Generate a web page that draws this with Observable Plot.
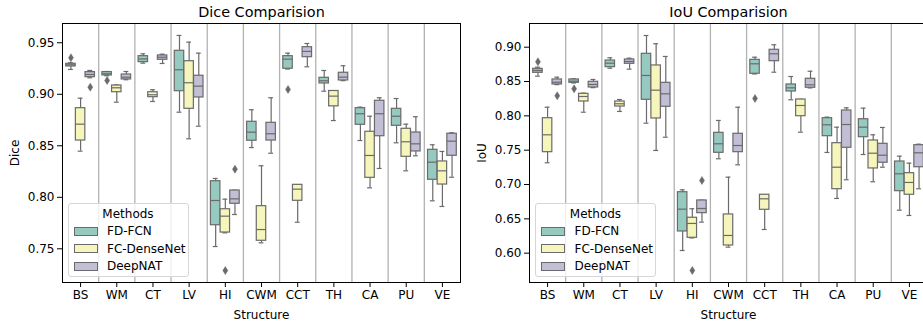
<!DOCTYPE html>
<html>
<head>
<meta charset="utf-8">
<script src="https://cdn.jsdelivr.net/npm/d3@7"></script>
<script src="https://cdn.jsdelivr.net/npm/@observablehq/plot@0.6"></script>
<style>
html, body { margin: 0; padding: 0; background: #fff; }
#wrap { position: relative; width: 923px; height: 322px; overflow: hidden; font-family: "DejaVu Sans", sans-serif; background: #fff; }
.panel { position: absolute; top: 0; }
.legend { position: absolute; background: rgba(255,255,255,0.8); border: 1px solid #d6d6d6; border-radius: 3px; box-sizing: border-box; font-size: 12px; color: #000; }
.legend .ttl { position: absolute; left: 0; right: 0; text-align: center; line-height: 14px; }
.legend .sw { position: absolute; width: 24px; height: 9px; box-sizing: border-box; border: 1.2px solid #6a6a6a; }
.legend .lb { position: absolute; line-height: 14px; white-space: nowrap; }
</style>
</head>
<body>
<div id="wrap"></div>
<script>
const structures = ["BS", "WM", "CT", "LV", "HI", "CWM", "CCT", "TH", "CA", "PU", "VE"];
const methods = ["FD-FCN", "FC-DenseNet", "DeepNAT"];
const colors = ["#96cac1", "#f6f6bc", "#c1bed6"];

// each entry: [whisker low, Q1, median, Q3, whisker high], in structure order
const diceFdFcn = [
  [0.9241, 0.9270, 0.9286, 0.9296, 0.9306],
  [0.9180, 0.9183, 0.9199, 0.9215, 0.9221],
  [0.9302, 0.9312, 0.9343, 0.9370, 0.9393],
  [0.8826, 0.9030, 0.9238, 0.9422, 0.9571],
  [0.7522, 0.7729, 0.7969, 0.8156, 0.8183],
  [0.8483, 0.8549, 0.8632, 0.8733, 0.8850],
  [0.9245, 0.9248, 0.9341, 0.9370, 0.9399],
  [0.9030, 0.9105, 0.9131, 0.9160, 0.9231],
  [0.8551, 0.8704, 0.8811, 0.8865, 0.8875],
  [0.8529, 0.8694, 0.8787, 0.8859, 0.8959],
  [0.7966, 0.8170, 0.8341, 0.8461, 0.8510]
];
const diceFcDenseNet = [
  [0.8448, 0.8551, 0.8710, 0.8865, 0.8962],
  [0.8923, 0.9020, 0.9063, 0.9085, 0.9090],
  [0.8930, 0.8972, 0.8995, 0.9020, 0.9044],
  [0.8568, 0.8859, 0.9112, 0.9321, 0.9506],
  [0.7655, 0.7658, 0.7817, 0.7884, 0.7982],
  [0.7558, 0.7578, 0.7687, 0.7914, 0.8306],
  [0.7758, 0.7966, 0.8079, 0.8121, 0.8123],
  [0.8745, 0.8883, 0.8982, 0.9032, 0.9034],
  [0.8092, 0.8189, 0.8406, 0.8636, 0.8787],
  [0.8257, 0.8393, 0.8539, 0.8665, 0.8710],
  [0.7911, 0.8124, 0.8257, 0.8348, 0.8445]
];
const diceDeepNat = [
  [0.9160, 0.9166, 0.9192, 0.9215, 0.9231],
  [0.9141, 0.9144, 0.9166, 0.9192, 0.9221],
  [0.9299, 0.9335, 0.9360, 0.9377, 0.9389],
  [0.8690, 0.8969, 0.9079, 0.9180, 0.9399],
  [0.7833, 0.7937, 0.7985, 0.8066, 0.8068],
  [0.8428, 0.8551, 0.8617, 0.8723, 0.8966],
  [0.9267, 0.9360, 0.9416, 0.9457, 0.9493],
  [0.9132, 0.9134, 0.9166, 0.9209, 0.9277],
  [0.8280, 0.8593, 0.8811, 0.8937, 0.8966],
  [0.8403, 0.8445, 0.8519, 0.8629, 0.8782],
  [0.8195, 0.8403, 0.8545, 0.8617, 0.8626]
];
const diceOutliers = [
  ["BS", "FD-FCN", 0.9354], ["BS", "DeepNAT", 0.9069], ["WM", "FD-FCN", 0.9134],
  ["HI", "FC-DenseNet", 0.7289], ["HI", "DeepNAT", 0.8273], ["CCT", "FD-FCN", 0.9047]
];

const iouFdFcn = [
  [0.8578, 0.8627, 0.8661, 0.8685, 0.8709],
  [0.8479, 0.8481, 0.8505, 0.8530, 0.8540],
  [0.8694, 0.8709, 0.8767, 0.8806, 0.8846],
  [0.7893, 0.8234, 0.8588, 0.8904, 0.9170],
  [0.6039, 0.6316, 0.6641, 0.6888, 0.6923],
  [0.7375, 0.7462, 0.7593, 0.7753, 0.7933],
  [0.8610, 0.8613, 0.8758, 0.8816, 0.8854],
  [0.8234, 0.8355, 0.8408, 0.8457, 0.8573],
  [0.7467, 0.7704, 0.7870, 0.7966, 0.7981],
  [0.7437, 0.7689, 0.7835, 0.7951, 0.8112],
  [0.6626, 0.6903, 0.7156, 0.7335, 0.7413]
];
const iouFcDenseNet = [
  [0.7317, 0.7471, 0.7724, 0.7966, 0.8126],
  [0.8053, 0.8209, 0.8282, 0.8321, 0.8330],
  [0.8064, 0.8136, 0.8176, 0.8209, 0.8238],
  [0.7496, 0.7962, 0.8374, 0.8734, 0.9050],
  [0.6222, 0.6224, 0.6433, 0.6516, 0.6647],
  [0.6088, 0.6112, 0.6258, 0.6564, 0.7107],
  [0.6345, 0.6632, 0.6792, 0.6851, 0.6853],
  [0.7762, 0.7995, 0.8151, 0.8238, 0.8240],
  [0.6797, 0.6932, 0.7252, 0.7602, 0.7835],
  [0.7040, 0.7234, 0.7456, 0.7641, 0.7724],
  [0.6549, 0.6851, 0.7030, 0.7165, 0.7311]
];
const iouDeepNat = [
  [0.8455, 0.8457, 0.8490, 0.8530, 0.8563],
  [0.8411, 0.8413, 0.8457, 0.8496, 0.8530],
  [0.8680, 0.8758, 0.8792, 0.8821, 0.8840],
  [0.7689, 0.8132, 0.8321, 0.8481, 0.8865],
  [0.6452, 0.6583, 0.6651, 0.6768, 0.6770],
  [0.7287, 0.7471, 0.7568, 0.7739, 0.8126],
  [0.8636, 0.8796, 0.8904, 0.8962, 0.9035],
  [0.8407, 0.8409, 0.8452, 0.8540, 0.8650],
  [0.7069, 0.7535, 0.7874, 0.8078, 0.8117],
  [0.7252, 0.7317, 0.7427, 0.7593, 0.7831],
  [0.6938, 0.7252, 0.7462, 0.7573, 0.7587]
];
const iouOutliers = [
  ["BS", "FD-FCN", 0.8787], ["BS", "DeepNAT", 0.8292], ["WM", "FD-FCN", 0.8394],
  ["HI", "FC-DenseNet", 0.5748], ["HI", "DeepNAT", 0.7059], ["CCT", "FD-FCN", 0.8253]
];

const diceTicks = [0.75, 0.80, 0.85, 0.90, 0.95];
const iouTicks = [0.60, 0.65, 0.70, 0.75, 0.80, 0.85, 0.90];

const GRAY = "#6a6a6a";
const GROUP = 0.8;             // seaborn group width
const HW = GROUP / methods.length;

const thinDiamond = {
  draw(ctx, size) {
    const r = Math.sqrt(size / Math.PI);
    ctx.moveTo(0, -r);
    ctx.lineTo(0.62 * r, 0);
    ctx.lineTo(0, r);
    ctx.lineTo(-0.62 * r, 0);
    ctx.closePath();
  }
};

function centerOf(si, mi) { return si + (mi - (methods.length - 1) / 2) * HW; }

function panel({title, ylabel, series, outliers, ticks, domain, width, marginLeft, marginRight}) {
  const rows = structures.flatMap((s, i) => methods.map((m, k) => {
    const [lo, q1, med, q3, hi] = series[k][i];
    const c = centerOf(i, k);
    return {s, m, c, lo, q1, med, q3, hi,
      xa: c - HW * 0.49, xb: c + HW * 0.49,
      ca: c - HW * 0.25, cb: c + HW * 0.25};
  }));
  const outs = outliers.map(([s, m, v]) => ({c: centerOf(structures.indexOf(s), methods.indexOf(m)), v}));
  const seps = d3.range(structures.length - 1).map(i => i + 0.5);
  return Plot.plot({
    width, height: 322,
    marginLeft, marginRight, marginTop: 23, marginBottom: 40,
    style: {fontFamily: "DejaVu Sans, sans-serif", fontSize: "12px", color: "black", background: "transparent", overflow: "visible"},
    x: {domain: [-0.5, structures.length - 0.5]},
    y: {domain},
    color: {domain: methods, range: colors},
    marks: [
      Plot.ruleX(seps, {x: d => d, stroke: "#b2b2b2", strokeWidth: 1.3}),
      Plot.ruleX(rows, {x: "c", y1: "lo", y2: "q1", stroke: GRAY, strokeWidth: 1.2}),
      Plot.ruleX(rows, {x: "c", y1: "q3", y2: "hi", stroke: GRAY, strokeWidth: 1.2}),
      Plot.ruleY(rows, {y: "lo", x1: "ca", x2: "cb", stroke: GRAY, strokeWidth: 1.2}),
      Plot.ruleY(rows, {y: "hi", x1: "ca", x2: "cb", stroke: GRAY, strokeWidth: 1.2}),
      Plot.rect(rows, {x1: "xa", x2: "xb", y1: "q1", y2: "q3", fill: "m", stroke: GRAY, strokeWidth: 1.2}),
      Plot.ruleY(rows, {y: "med", x1: "xa", x2: "xb", stroke: GRAY, strokeWidth: 1.2}),
      Plot.dot(outs, {x: "c", y: "v", r: 4, symbol: thinDiamond, fill: GRAY, stroke: GRAY, strokeWidth: 0.5}),
      Plot.frame({stroke: "black", strokeWidth: 1}),
      Plot.axisX({ticks: d3.range(structures.length), tickFormat: i => structures[i], tickSize: 5, tickPadding: 3,
        label: "Structure", labelAnchor: "center", labelOffset: 36, labelArrow: "none", fontSize: 12}),
      Plot.axisY({ticks, tickFormat: d3.format(".2f"), tickSize: 5, tickPadding: 3,
        label: ylabel, labelAnchor: "center", labelOffset: 52, labelArrow: "none", fontSize: 12}),
      Plot.text([title], {text: d => d, frameAnchor: "top", dy: -6.3, lineAnchor: "bottom", fontSize: 14.4})
    ]
  });
}

function legend(left) {
  const lg = document.createElement("div");
  lg.className = "legend";
  Object.assign(lg.style, {left: left + "px", top: "202.5px", width: "121px", height: "74px"});
  const t = document.createElement("div");
  t.className = "ttl"; t.style.top = "3px"; t.textContent = "Methods";
  lg.appendChild(t);
  methods.forEach((m, k) => {
    const top = 23 + k * 17.5;
    const sw = document.createElement("div");
    sw.className = "sw";
    Object.assign(sw.style, {left: "5px", top: top + "px", background: colors[k]});
    const lb = document.createElement("div");
    lb.className = "lb";
    Object.assign(lb.style, {left: "38.5px", top: (top - 2.5) + "px"});
    lb.textContent = m;
    lg.appendChild(sw); lg.appendChild(lb);
  });
  return lg;
}

const wrap = document.getElementById("wrap");
const p1 = panel({title: "Dice Comparision", ylabel: "Dice", series: [diceFdFcn, diceFcDenseNet, diceDeepNat],
  outliers: diceOutliers, ticks: diceTicks, domain: [0.7173, 0.9687], width: 470, marginLeft: 62, marginRight: 10});
p1.classList.add("panel"); p1.style.left = "0px";
const p2 = panel({title: "IoU Comparision", ylabel: "IoU", series: [iouFdFcn, iouFcDenseNet, iouDeepNat],
  outliers: iouOutliers, ticks: iouTicks, domain: [0.5573, 0.9345], width: 460, marginLeft: 59, marginRight: 3});
p2.classList.add("panel"); p2.style.left = "470px";
wrap.appendChild(p1);
wrap.appendChild(p2);
wrap.appendChild(legend(67.5));
wrap.appendChild(legend(535));
</script>
</body>
</html>
